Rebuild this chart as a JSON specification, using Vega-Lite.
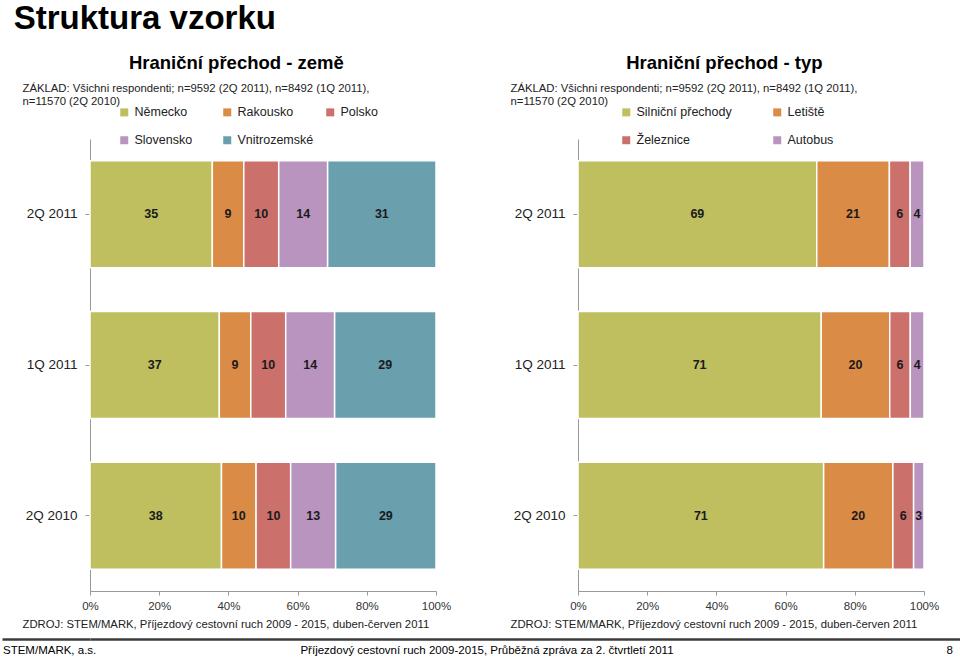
{
  "$schema": "https://vega.github.io/schema/vega-lite/v6.json",
  "padding": {"left": 0, "top": 2, "right": 0, "bottom": 0},
  "background": "white",
  "title": {"text": "Struktura vzorku", "anchor": "start", "frame": "bounds", "dx": 13, "fontSize": 33, "fontWeight": "bold", "color": "#000000", "offset": 18},
  "config": {
    "font": "Liberation Sans",
    "view": {"stroke": null},
    "axis": {"grid": false},
    "axisX": {
      "format": ".0%", "labelFlush": false,
      "labelFontSize": 11.5, "labelColor": "#333333", "labelPadding": 5,
      "tickSize": 4, "tickColor": "#999999", "domainColor": "#999999",
      "titleY": 27, "titleAlign": "left", "titleBaseline": "top",
      "titleFontSize": 11.3, "titleFontWeight": "normal", "titleColor": "#222222"
    },
    "axisY": {
      "titleAngle": 0, "titleAlign": "left", "titleBaseline": "top", "titleX": -68, "titleY": -57,
      "titleFontSize": 11.3, "titleFontWeight": "normal", "titleColor": "#222222", "titleLineHeight": 13,
      "labelFontSize": 13.5, "labelColor": "#222222", "labelPadding": 8,
      "tickOffset": -75.33, "tickSize": 5, "tickColor": "#999999", "domainColor": "#999999"
    },
    "legend": {
      "title": null, "orient": "none", "legendY": -33, "direction": "horizontal",
      "symbolType": "square", "symbolSize": 64, "symbolStrokeWidth": 0, "labelFontSize": 12.5, "labelColor": "#222222",
      "labelOffset": 4, "rowPadding": 15, "gridAlign": "all"
    }
  },
  "datasets": {
    "zeme": [
      {"period": "2Q 2011", "cat": "Německo", "k": 1, "value": 35},
      {"period": "2Q 2011", "cat": "Rakousko", "k": 2, "value": 9},
      {"period": "2Q 2011", "cat": "Polsko", "k": 3, "value": 10},
      {"period": "2Q 2011", "cat": "Slovensko", "k": 4, "value": 14},
      {"period": "2Q 2011", "cat": "Vnitrozemské", "k": 5, "value": 31},
      {"period": "1Q 2011", "cat": "Německo", "k": 1, "value": 37},
      {"period": "1Q 2011", "cat": "Rakousko", "k": 2, "value": 9},
      {"period": "1Q 2011", "cat": "Polsko", "k": 3, "value": 10},
      {"period": "1Q 2011", "cat": "Slovensko", "k": 4, "value": 14},
      {"period": "1Q 2011", "cat": "Vnitrozemské", "k": 5, "value": 29},
      {"period": "2Q 2010", "cat": "Německo", "k": 1, "value": 38},
      {"period": "2Q 2010", "cat": "Rakousko", "k": 2, "value": 10},
      {"period": "2Q 2010", "cat": "Polsko", "k": 3, "value": 10},
      {"period": "2Q 2010", "cat": "Slovensko", "k": 4, "value": 13},
      {"period": "2Q 2010", "cat": "Vnitrozemské", "k": 5, "value": 29}
    ],
    "typ": [
      {"period": "2Q 2011", "cat": "Silniční přechody", "k": 1, "value": 69},
      {"period": "2Q 2011", "cat": "Letiště", "k": 2, "value": 21},
      {"period": "2Q 2011", "cat": "Železnice", "k": 3, "value": 6},
      {"period": "2Q 2011", "cat": "Autobus", "k": 4, "value": 4},
      {"period": "1Q 2011", "cat": "Silniční přechody", "k": 1, "value": 71},
      {"period": "1Q 2011", "cat": "Letiště", "k": 2, "value": 20},
      {"period": "1Q 2011", "cat": "Železnice", "k": 3, "value": 6},
      {"period": "1Q 2011", "cat": "Autobus", "k": 4, "value": 4},
      {"period": "2Q 2010", "cat": "Silniční přechody", "k": 1, "value": 71},
      {"period": "2Q 2010", "cat": "Letiště", "k": 2, "value": 20},
      {"period": "2Q 2010", "cat": "Železnice", "k": 3, "value": 6},
      {"period": "2Q 2010", "cat": "Autobus", "k": 4, "value": 3}
    ],
    "footer": [
      {"part": "l", "label": "STEM/MARK, a.s."},
      {"part": "m", "label": "Příjezdový cestovní ruch 2009-2015, Průběžná zpráva za 2. čtvrtletí 2011"},
      {"part": "r", "label": "8"}
    ]
  },
  "vconcat": [
    {
      "hconcat": [
        {
          "width": 346,
          "height": 452,
          "data": {"name": "zeme"},
          "title": {"text": "Hraniční přechod - země", "fontSize": 18.5, "fontWeight": "bold", "anchor": "middle", "frame": "bounds", "offset": 10, "color": "#000000"},
          "encoding": {
            "y": {
              "field": "period", "type": "nominal", "sort": ["2Q 2011", "1Q 2011", "2Q 2010"],
              "scale": {"paddingInner": 0.29, "paddingOuter": 0.145},
              "axis": {"title": ["ZÁKLAD: Všichni respondenti; n=9592 (2Q 2011), n=8492 (1Q 2011),", "n=11570 (2Q 2010)"]}
            },
            "order": {"field": "k", "type": "quantitative"}
          },
          "layer": [
            {
              "mark": {"type": "bar", "stroke": "white", "strokeWidth": 1.5},
              "encoding": {
                "x": {"field": "value", "type": "quantitative", "stack": "normalize",
                  "axis": {"values": [0, 0.2, 0.4, 0.6, 0.8, 1], "titleX": -68, "title": "ZDROJ: STEM/MARK, Příjezdový cestovní ruch 2009 - 2015, duben-červen 2011"}},
                "color": {
                  "field": "cat", "type": "nominal",
                  "scale": {"domain": ["Německo", "Rakousko", "Polsko", "Slovensko", "Vnitrozemské"], "range": ["#BFBF60", "#DA8C46", "#CC706C", "#B894BE", "#6A9FAE"]},
                  "legend": {"legendX": 28, "columns": 3, "columnPadding": 10}
                }
              }
            },
            {
              "mark": {"type": "text", "fontSize": 12.5, "fontWeight": "bold", "color": "#1a1a1a"},
              "encoding": {
                "x": {"field": "value", "type": "quantitative", "stack": "normalize", "bandPosition": 0.5,
                  "axis": {"values": [0, 0.2, 0.4, 0.6, 0.8, 1], "titleX": -68, "title": "ZDROJ: STEM/MARK, Příjezdový cestovní ruch 2009 - 2015, duben-červen 2011"}},
                "detail": {"field": "cat", "type": "nominal"},
                "text": {"field": "value", "type": "quantitative"}
              }
            }
          ]
        },
        {
          "width": 346,
          "height": 452,
          "data": {"name": "typ"},
          "title": {"text": "Hraniční přechod - typ", "fontSize": 18.5, "fontWeight": "bold", "anchor": "middle", "frame": "bounds", "offset": 10, "color": "#000000"},
          "encoding": {
            "y": {
              "field": "period", "type": "nominal", "sort": ["2Q 2011", "1Q 2011", "2Q 2010"],
              "scale": {"paddingInner": 0.29, "paddingOuter": 0.145},
              "axis": {"title": ["ZÁKLAD: Všichni respondenti; n=9592 (2Q 2011), n=8492 (1Q 2011),", "n=11570 (2Q 2010)"]}
            },
            "order": {"field": "k", "type": "quantitative"}
          },
          "layer": [
            {
              "mark": {"type": "bar", "stroke": "white", "strokeWidth": 1.5},
              "encoding": {
                "x": {"field": "value", "type": "quantitative", "stack": "normalize",
                  "axis": {"values": [0, 0.2, 0.4, 0.6, 0.8, 1], "titleX": -68, "title": "ZDROJ: STEM/MARK, Příjezdový cestovní ruch 2009 - 2015, duben-červen 2011"}},
                "color": {
                  "field": "cat", "type": "nominal",
                  "scale": {"domain": ["Silniční přechody", "Letiště", "Železnice", "Autobus"], "range": ["#BFBF60", "#DA8C46", "#CC706C", "#B894BE"]},
                  "legend": {"legendX": 42, "columns": 2, "columnPadding": 39}
                }
              }
            },
            {
              "mark": {"type": "text", "fontSize": 12.5, "fontWeight": "bold", "color": "#1a1a1a"},
              "encoding": {
                "x": {"field": "value", "type": "quantitative", "stack": "normalize", "bandPosition": 0.5,
                  "axis": {"values": [0, 0.2, 0.4, 0.6, 0.8, 1], "titleX": -68, "title": "ZDROJ: STEM/MARK, Příjezdový cestovní ruch 2009 - 2015, duben-červen 2011"}},
                "detail": {"field": "cat", "type": "nominal"},
                "text": {"field": "value", "type": "quantitative"}
              }
            }
          ]
        }
      ],
      "spacing": 59,
      "resolve": {"scale": {"color": "independent"}, "legend": {"color": "independent"}}
    },
    {
      "width": 870,
      "height": 17,
      "data": {"name": "footer"},
      "encoding": {
        "x": {
          "field": "part", "type": "nominal",
          "scale": {"type": "point", "domain": ["l", "m", "r"], "padding": 0},
          "axis": {"orient": "top", "labels": false, "ticks": false, "title": null, "domainColor": "#3c3c3c", "domainWidth": 2.5}
        },
        "y": {
          "datum": 0.5, "type": "quantitative",
          "scale": {"domain": [0, 1]},
          "axis": {"values": [1], "tickSize": 88, "tickWidth": 2.5, "tickColor": "#3c3c3c", "tickOffset": 0, "domain": false, "labels": false, "title": null, "grid": false}
        },
        "text": {"field": "label", "type": "nominal"}
      },
      "layer": [
        {"transform": [{"filter": "datum.part === 'l'"}], "mark": {"type": "text", "align": "left", "dx": -87, "dy": 3, "fontSize": 11.5, "color": "#000000"}},
        {"transform": [{"filter": "datum.part === 'm'"}], "mark": {"type": "text", "align": "center", "dx": -38, "dy": 3, "fontSize": 11.5, "color": "#000000"}},
        {"transform": [{"filter": "datum.part === 'r'"}], "mark": {"type": "text", "align": "right", "dx": -7, "dy": 3, "fontSize": 11.5, "color": "#000000"}}
      ]
    }
  ],
  "spacing": 7
}
